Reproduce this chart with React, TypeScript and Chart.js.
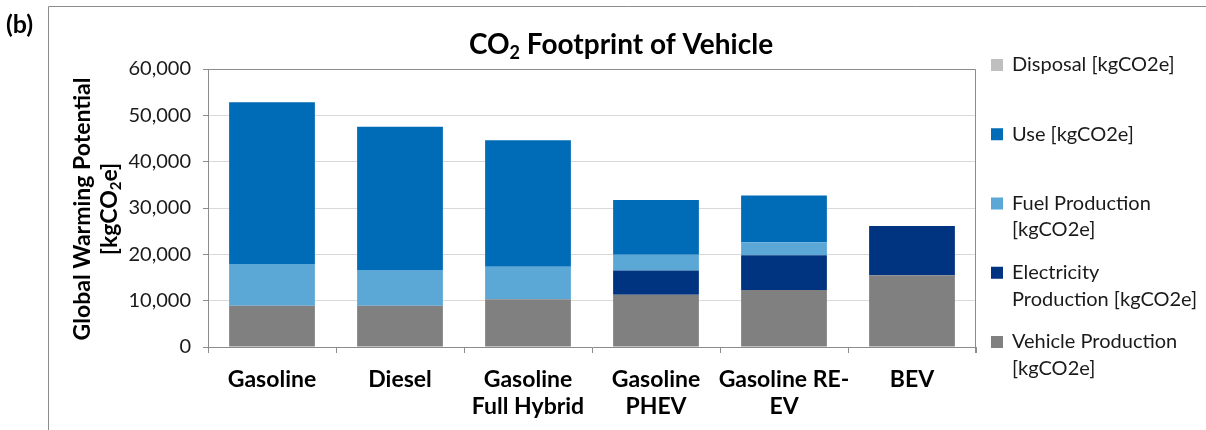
import React, { useEffect, useRef } from "react";
import { Chart, registerables } from "chart.js";

Chart.register(...registerables);

const categories: string[][] = [
  ["Gasoline"],
  ["Diesel"],
  ["Gasoline", "Full Hybrid"],
  ["Gasoline", "PHEV"],
  ["Gasoline RE-", "EV"],
  ["BEV"],
];
const vehicleProduction = [8900, 8900, 10300, 11300, 12300, 15500];
const electricityProduction = [0, 0, 0, 5200, 7500, 10600];
const fuelProduction = [9000, 7700, 7000, 3400, 2800, 0];
const useValues = [34900, 30950, 27300, 11850, 10100, 0];
const disposal = [0, 0, 0, 0, 0, 0];
const yTicks = [0, 10000, 20000, 30000, 40000, 50000, 60000];

const FONT = "Lato, 'Open Sans', sans-serif";

const seriesDefs = [
  { label: ["Vehicle Production", "[kgCO2e]"], data: vehicleProduction, color: "#808080" },
  { label: ["Electricity", "Production [kgCO2e]"], data: electricityProduction, color: "#003380" },
  { label: ["Fuel Production", "[kgCO2e]"], data: fuelProduction, color: "#5BA7D6" },
  { label: ["Use [kgCO2e]"], data: useValues, color: "#006BB6" },
  { label: ["Disposal [kgCO2e]"], data: disposal, color: "#BFBFBF" },
];

function drawSub(ctx: CanvasRenderingContext2D, parts: { t: string; sub?: boolean }[], x: number, y: number, size: number, weight: string, align: "center" | "left") {
  const fontFor = (p: { t: string; sub?: boolean }) => `${weight} ${p.sub ? Math.round(size * 0.65) : size}px ${FONT}`;
  const total = parts.reduce((s, p) => {
    ctx.font = fontFor(p);
    return s + ctx.measureText(p.t).width;
  }, 0);
  let cx = align === "center" ? x - total / 2 : x;
  ctx.textAlign = "left";
  ctx.textBaseline = "middle";
  for (const p of parts) {
    ctx.font = fontFor(p);
    ctx.fillText(p.t, cx, p.sub ? y + size * 0.28 : y);
    cx += ctx.measureText(p.t).width;
  }
}

const decorPlugin = {
  id: "decor",
  beforeDraw(chart: any) {
    const ctx = chart.ctx as CanvasRenderingContext2D;
    ctx.save();
    ctx.fillStyle = "#ffffff";
    ctx.fillRect(0, 0, chart.width, chart.height);
    // outer frame
    ctx.strokeStyle = "#8C8C8C";
    ctx.lineWidth = 1;
    ctx.beginPath();
    ctx.moveTo(48.5, 430);
    ctx.lineTo(48.5, 6.5);
    ctx.lineTo(chart.width, 6.5);
    ctx.stroke();
    // (b)
    ctx.fillStyle = "#000";
    ctx.font = `bold 25px ${FONT}`;
    ctx.textAlign = "left";
    ctx.textBaseline = "middle";
    ctx.fillText("(b)", 6, 25);
    // title
    drawSub(ctx, [{ t: "CO" }, { t: "2", sub: true }, { t: " Footprint of Vehicle" }], 621, 45, 28, "bold", "center");
    // y-axis title
    const area = chart.chartArea;
    const cy = (area.top + area.bottom) / 2 + 1;
    ctx.save();
    ctx.translate(83, cy);
    ctx.rotate(-Math.PI / 2);
    drawSub(ctx, [{ t: "Global Warming Potential" }], 0, 0, 23, "bold", "center");
    ctx.restore();
    ctx.save();
    ctx.translate(110, cy);
    ctx.rotate(-Math.PI / 2);
    drawSub(ctx, [{ t: "[kgCO" }, { t: "2", sub: true }, { t: "e]" }], 0, 0, 23, "bold", "center");
    ctx.restore();
    ctx.restore();
  },
  afterDatasetsDraw(chart: any) {
    const ctx = chart.ctx as CanvasRenderingContext2D;
    const a = chart.chartArea;
    ctx.save();
    ctx.strokeStyle = "#8C8C8C";
    ctx.lineWidth = 1;
    ctx.beginPath();
    ctx.moveTo(Math.round(a.left) + 0.5, Math.round(a.top) + 0.5);
    ctx.lineTo(Math.round(a.right) - 0.5, Math.round(a.top) + 0.5);
    ctx.lineTo(Math.round(a.right) - 0.5, Math.round(a.bottom) + 6);
    ctx.stroke();
    // legend (reverse order)
    const ds = [...chart.data.datasets].reverse();
    const x0 = a.right + 15;
    ds.forEach((d: any, i: number) => {
      const y = 65 + i * 69.25;
      ctx.fillStyle = d.backgroundColor;
      ctx.fillRect(x0, y - 6, 12, 12);
      ctx.fillStyle = "#1a1a1a";
      ctx.font = `20px ${FONT}`;
      ctx.textAlign = "left";
      ctx.textBaseline = "middle";
      (d.label as string[]).forEach((ln, j) => ctx.fillText(ln, x0 + 21, y + j * 26.5));
    });
    ctx.restore();
  },
};

export default function App() {
  const ref = useRef<HTMLCanvasElement | null>(null);
  useEffect(() => {
    document.body.style.margin = "0";
    const canvas = ref.current!;
    const chart = new Chart(canvas, {
      type: "bar",
      data: {
        labels: categories as any,
        datasets: seriesDefs.map((s) => ({
          label: s.label as any,
          data: s.data,
          backgroundColor: s.color,
          borderWidth: 0,
          barPercentage: 0.67,
          categoryPercentage: 1,
        })),
      },
      options: {
        animation: false,
        responsive: false,
        devicePixelRatio: 1,
        layout: { padding: { top: 69, right: 230, left: 0, bottom: 0 } },
        plugins: {
          legend: { display: false },
          title: { display: false },
          tooltip: { enabled: false },
        },
        scales: {
          x: {
            stacked: true,
            offset: true,
            grid: {
              offset: true,
              drawOnChartArea: false,
              drawTicks: true,
              tickLength: 6,
              tickColor: "#8C8C8C",
            },
            border: { color: "#8C8C8C", width: 1 },
            ticks: {
              color: "#000",
              font: { family: FONT, size: 23, weight: "bold", lineHeight: 1.17 },
              padding: 13,
              maxRotation: 0,
              autoSkip: false,
            },
            afterFit: (s: any) => {
              s.height = 83;
            },
          },
          y: {
            stacked: true,
            min: 0,
            max: 60000,
            afterBuildTicks: (s: any) => {
              s.ticks = yTicks.map((v) => ({ value: v }));
            },
            grid: {
              color: "#D9D9D9",
              tickColor: "#8C8C8C",
              tickLength: 5,
              lineWidth: 1,
            },
            border: { color: "#8C8C8C", width: 1 },
            ticks: {
              color: "#1a1a1a",
              font: { family: FONT, size: 20 },
              padding: 12,
              callback: (v: any) => Number(v).toLocaleString("en-US"),
            },
            afterFit: (s: any) => {
              s.width = 208;
            },
          },
        },
      },
      plugins: [decorPlugin],
    });
    return () => chart.destroy();
  }, []);
  return <canvas ref={ref} width={1206} height={430} style={{ display: "block" }} />;
}
